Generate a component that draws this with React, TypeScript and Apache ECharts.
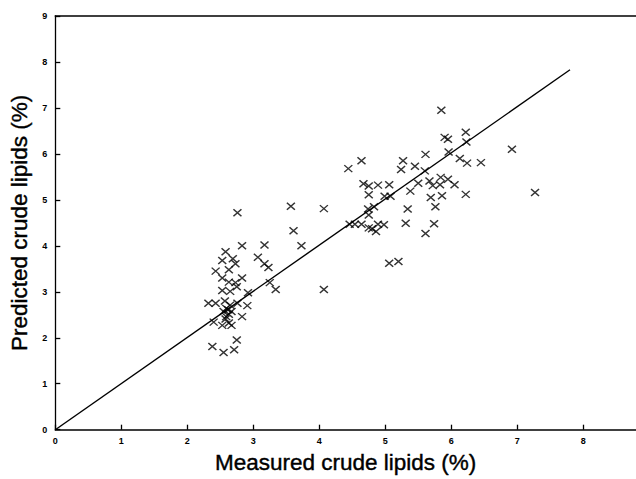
import React, { useEffect, useRef } from "react";
import * as echarts from "echarts";

const measured: number[] = [
  5.85, 6.22, 5.9, 5.95, 6.23, 6.92, 5.61, 5.96, 4.64, 5.27, 6.13, 6.24, 6.45, 4.44, 5.24, 5.45, 5.6,
  4.67, 4.75, 4.89, 5.06, 5.5, 5.67, 5.72, 5.84, 5.83, 5.95, 6.05, 5.38, 4.75, 4.99, 5.08, 5.69, 5.86,
  6.22, 7.27, 4.74, 4.83, 5.34, 5.76, 4.75, 4.46, 4.54, 4.64, 4.75, 4.8, 4.86, 4.89, 4.98, 5.31, 5.74,
  5.61, 5.06, 5.2,
  3.57, 4.07, 3.61, 3.73, 3.17, 3.07, 3.17, 3.23, 3.25, 3.34, 4.07, 2.76, 2.83, 2.92, 2.91, 2.83, 2.83,
  2.58, 2.69, 2.53, 2.73, 2.43, 2.63, 2.53, 2.63, 2.73, 2.75, 2.53, 2.65, 2.32, 2.43, 2.57, 2.76, 2.59,
  2.62, 2.55, 2.67, 2.59, 2.4, 2.53, 2.63, 2.67, 2.75, 2.38, 2.55, 2.71, 2.63, 2.65, 2.58,
];
const predicted: number[] = [
  6.95, 6.47, 6.36, 6.32, 6.26, 6.1, 5.99, 6.04, 5.85, 5.85, 5.9, 5.8, 5.81, 5.68, 5.66, 5.73, 5.63,
  5.35, 5.3, 5.32, 5.33, 5.36, 5.41, 5.31, 5.49, 5.33, 5.45, 5.33, 5.19, 5.11, 5.08, 5.08, 5.05, 5.09,
  5.12, 5.16, 4.8, 4.85, 4.8, 4.85, 4.67, 4.47, 4.47, 4.47, 4.39, 4.37, 4.31, 4.47, 4.46, 4.49, 4.48,
  4.27, 3.62, 3.66,
  4.86, 4.81, 4.33, 4.0, 4.02, 3.75, 3.61, 3.53, 3.2, 3.05, 3.05, 4.72, 4.0, 2.98, 2.7, 3.3, 2.46,
  3.87, 3.72, 3.68, 3.61, 3.45, 3.48, 3.3, 3.21, 3.2, 3.11, 3.03, 3.01, 2.75, 2.75, 2.8, 2.75, 2.64,
  2.61, 2.57, 2.57, 2.46, 2.34, 2.27, 2.32, 2.27, 1.95, 1.81, 1.68, 1.74, 2.51, 2.71, 2.41,
];
const fitX: number[] = [0, 7.8];
const fitY: number[] = [0, 7.83];
const tickValues: number[] = [0, 1, 2, 3, 4, 5, 6, 7, 8, 9];

const xName = "Measured crude lipids (%)";
const yName = "Predicted crude lipids (%)";

export default function App() {
  const ref = useRef<HTMLDivElement>(null);
  useEffect(() => {
    if (!ref.current) return;
    const chart = echarts.init(ref.current, undefined, { renderer: "svg" });
    const labelStyle = {
      color: "#000",
      fontSize: 9,
      fontWeight: "bold" as const,
      fontFamily: "Liberation Sans, Arial, sans-serif",
    };
    const nameStyle = {
      color: "#000",
      fontSize: 22.5,
      fontFamily: "Liberation Sans, Arial, sans-serif",
      textBorderColor: "#000",
      textBorderWidth: 0.4,
    };
    chart.setOption({
      animation: false,
      backgroundColor: "#fff",
      grid: { left: 53, right: 0, top: 16, bottom: 42, containLabel: false },
      xAxis: [
        {
          type: "value",
          min: 0,
          max: 8.8,
          interval: 1,
          position: "bottom",
          name: xName,
          nameLocation: "middle",
          nameGap: 17,
          nameTextStyle: { ...nameStyle, verticalAlign: "top" },
          axisLine: { show: true, lineStyle: { color: "#000", width: 1.6 } },
          axisTick: { show: true, inside: true, length: 5, lineStyle: { color: "#000", width: 1.3 } },
          axisLabel: {
            ...labelStyle,
            margin: 7,
            showMaxLabel: false,
            formatter: (v: number) => (tickValues.includes(v) ? String(v) : ""),
          },
          splitLine: { show: false },
        },
        {
          type: "value",
          min: 0,
          max: 8.8,
          position: "top",
          axisLine: { show: true, lineStyle: { color: "#000", width: 1.6 } },
          axisTick: { show: false },
          axisLabel: { show: false },
          splitLine: { show: false },
        },
      ],
      yAxis: {
        type: "value",
        min: 0,
        max: 9,
        interval: 1,
        name: yName,
        nameLocation: "middle",
        nameGap: 19,
        nameRotate: 90,
        nameTextStyle: nameStyle,
        axisLine: { show: true, lineStyle: { color: "#000", width: 1.3 } },
        axisTick: { show: true, inside: true, length: 5, lineStyle: { color: "#000", width: 1.3 } },
        axisLabel: { ...labelStyle, margin: 8 },
        splitLine: { show: false },
      },
      series: [
        {
          type: "line",
          data: fitX.map((x, i) => [x, fitY[i]]),
          showSymbol: false,
          symbol: "none",
          lineStyle: { color: "#000", width: 1.4 },
          silent: true,
        },
        {
          type: "scatter",
          data: measured.map((x, i) => [x, predicted[i]]),
          symbol: "path://M0,0L10,10M10,0L0,10",
          symbolSize: [8, 7],
          itemStyle: { color: "none", borderColor: "#000", borderWidth: 1.4 },
        },
      ],
    });
    return () => chart.dispose();
  }, []);
  return (
    <div
      ref={ref}
      style={{ position: "fixed", left: 0, top: 0, width: 636, height: 479, background: "#fff" }}
    />
  );
}
